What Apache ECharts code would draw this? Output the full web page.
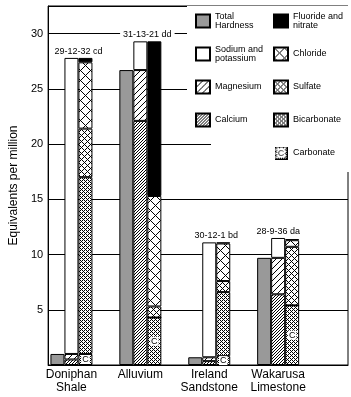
<!DOCTYPE html>
<html>
<head>
<meta charset="utf-8">
<script src="https://cdn.jsdelivr.net/npm/echarts@6/dist/echarts.min.js"></script>
<style>
  html, body { margin: 0; padding: 0; background: #fff; }
  #chart { width: 351px; height: 397px; }
</style>
</head>
<body>
<div id="chart"></div>
<script>
// formations along the bottom
const formations = ['Doniphan\nShale', 'Alluvium', 'Ireland\nSandstone', 'Wakarusa\nLimestone'];
// well numbers written above each group
const wellCodes = ['29-12-32 cd', '31-13-21 dd', '30-12-1 bd', '28-9-36 da'];

// equivalents per million
const totalHardness = [1.0, 26.7, 0.7, 9.7];
// cations (bottom -> top)
const calcium = [0.5, 22.1, 0.35, 6.4];
const magnesium = [0.5, 4.6, 0.35, 3.3];
const sodiumPotassium = [26.8, 2.6, 10.4, 1.8];
// anions (bottom -> top)
const carbonate = [1.0, 4.3, 0.8, 5.4];
const bicarbonate = [16.0, 0, 5.8, 0];
const sulfate = [4.4, 1.0, 1.0, 5.3];
const chloride = [6.0, 10.0, 3.4, 0.6];
const fluorideNitrate = [0.4, 14.0, 0.1, 0.1];

const yMax = 32.5;
const yStep = 5;

const FONT = 'Liberation Sans, Arial, sans-serif';

// small black & white fill patterns
function makePattern(size, paint) {
  const c = document.createElement('canvas');
  c.width = size;
  c.height = size;
  const ctx = c.getContext('2d');
  ctx.fillStyle = '#fff';
  ctx.fillRect(0, 0, size, size);
  ctx.fillStyle = '#000';
  for (let y = 0; y < size; y++) {
    for (let x = 0; x < size; x++) {
      if (paint(x, y)) ctx.fillRect(x, y, 1, 1);
    }
  }
  return c;
}
const pat = c => ({ image: c, repeat: 'repeat' });

// dotted stipple used for (bi)carbonate
const stippleDot = (x, y) => (x % 2 === 0 && y % 2 === 0) || (x % 4 === 1 && y % 4 === 1) || (x % 4 === 3 && y % 4 === 3);

const fillMagnesium = pat(makePattern(6, (x, y) => (x + y) % 6 === 0));
const fillCalcium = pat(makePattern(3, (x, y) => (x + y) % 3 === 0));
const fillChloride = pat(makePattern(10, (x, y) => (x + y) % 10 === 0 || (x - y + 10) % 10 === 0));
const fillSulfate = pat(makePattern(6, (x, y) => (x + y) % 6 === 0 || (x - y + 6) % 6 === 0));
const fillStipple = pat(makePattern(4, stippleDot));

// legend swatch for carbonate: stipple with a "C"
function carbonateIcon() {
  const c = makePattern(14, stippleDot);
  const ctx = c.getContext('2d');
  ctx.fillStyle = '#fff';
  ctx.fillRect(3, 2, 8, 10);
  ctx.fillStyle = '#000';
  ctx.font = '9px ' + FONT;
  ctx.textAlign = 'center';
  ctx.textBaseline = 'middle';
  ctx.fillText('C', 7, 7.5);
  ctx.strokeStyle = '#000';
  ctx.strokeRect(0.5, 0.5, 13, 13);
  return 'image://' + c.toDataURL();
}

const twoLine = {
  'Total Hardness': 'Total\nHardness',
  'Sodium and potassium': 'Sodium and\npotassium',
  'Fluoride and nitrate': 'Fluoride and\nnitrate'
};

function bar(name, data, stack, fill, extra) {
  return Object.assign({
    type: 'bar',
    name: name,
    data: data,
    stack: stack,
    xAxisIndex: 0,
    yAxisIndex: 0,
    barWidth: 14,
    barGap: '0%',
    itemStyle: { color: fill, borderColor: '#000', borderWidth: 1 },
    emphasis: { disabled: true }
  }, extra || {});
}

const legendCommon = {
  orient: 'vertical',
  top: 6,
  itemWidth: 14,
  itemHeight: 13,
  itemGap: 15,
  icon: 'rect',
  backgroundColor: '#fff',
  selectedMode: false,
  formatter: n => twoLine[n] || n,
  textStyle: { fontFamily: FONT, fontSize: 9, lineHeight: 9, height: 18, color: '#000' }
};

const chart = echarts.init(document.getElementById('chart'), null, { renderer: 'canvas' });

chart.setOption({
  animation: false,
  textStyle: { fontFamily: FONT },
  grid: [
    // bars
    { left: 37, top: 6, bottom: 32, width: 275.6 },
    // frame + grid lines
    { left: 37, top: 6, bottom: 32, right: 3, show: true, borderColor: '#000', borderWidth: 1 }
  ],
  xAxis: [
    {
      type: 'category',
      gridIndex: 0,
      data: formations,
      axisLine: { show: false },
      axisTick: { show: false },
      axisLabel: { interval: 0, margin: 3, fontSize: 12, lineHeight: 13, color: '#000' }
    },
    {
      type: 'value',
      gridIndex: 1,
      min: 0,
      max: 1,
      axisLine: { show: true, lineStyle: { color: '#000' } },
      axisTick: { show: false },
      axisLabel: { show: false },
      splitLine: { show: false }
    }
  ],
  yAxis: [
    { type: 'value', gridIndex: 0, min: 0, max: yMax, show: false },
    {
      type: 'value',
      gridIndex: 1,
      min: 0,
      max: yMax,
      interval: yStep,
      name: 'Equivalents per million',
      nameLocation: 'middle',
      nameGap: 22,
      nameTextStyle: { fontSize: 12, color: '#000' },
      axisLine: { show: true, lineStyle: { color: '#000' } },
      axisTick: { show: false },
      axisLabel: {
        margin: 5,
        fontSize: 11,
        color: '#000',
        formatter: v => (v > 0 && v % yStep === 0 ? String(v) : '')
      },
      splitLine: { show: true, lineStyle: { color: '#000', width: 1 } }
    }
  ],
  legend: [
    Object.assign({}, legendCommon, {
      left: 187,
      padding: [6, 4, 6, 8],
      z: 5,
      data: ['Total Hardness', 'Sodium and potassium', 'Magnesium', 'Calcium']
    }),
    Object.assign({}, legendCommon, {
      left: 211,
      padding: [6, 6, 10, 62],
      z: 4,
      data: ['Fluoride and nitrate', 'Chloride', 'Sulfate', 'Bicarbonate',
        { name: 'Carbonate', icon: carbonateIcon() }]
    })
  ],
  series: [
    bar('Total Hardness', totalHardness, 'hardness', '#999999'),
    bar('Calcium', calcium, 'cations', fillCalcium),
    bar('Magnesium', magnesium, 'cations', fillMagnesium),
    bar('Sodium and potassium', sodiumPotassium.map((v, i) => ({
      value: v,
      label: { offset: [i === 3 ? 0 : 7, 0] }
    })), 'cations', '#ffffff', {
      label: {
        show: true,
        position: 'top',
        distance: 2,
        formatter: p => wellCodes[p.dataIndex],
        fontSize: 9,
        color: '#000',
        backgroundColor: '#fff',
        padding: [1, 3, 0, 3]
      }
    }),
    bar('Carbonate', carbonate, 'anions', fillStipple, {
      label: {
        show: true,
        position: 'inside',
        formatter: 'C',
        fontSize: 9,
        color: '#000',
        backgroundColor: '#fff',
        padding: [0, 1]
      }
    }),
    bar('Bicarbonate', bicarbonate, 'anions', fillStipple),
    bar('Sulfate', sulfate, 'anions', fillSulfate),
    bar('Chloride', chloride, 'anions', fillChloride),
    bar('Fluoride and nitrate', fluorideNitrate, 'anions', '#000000')
  ]
});
</script>
</body>
</html>
